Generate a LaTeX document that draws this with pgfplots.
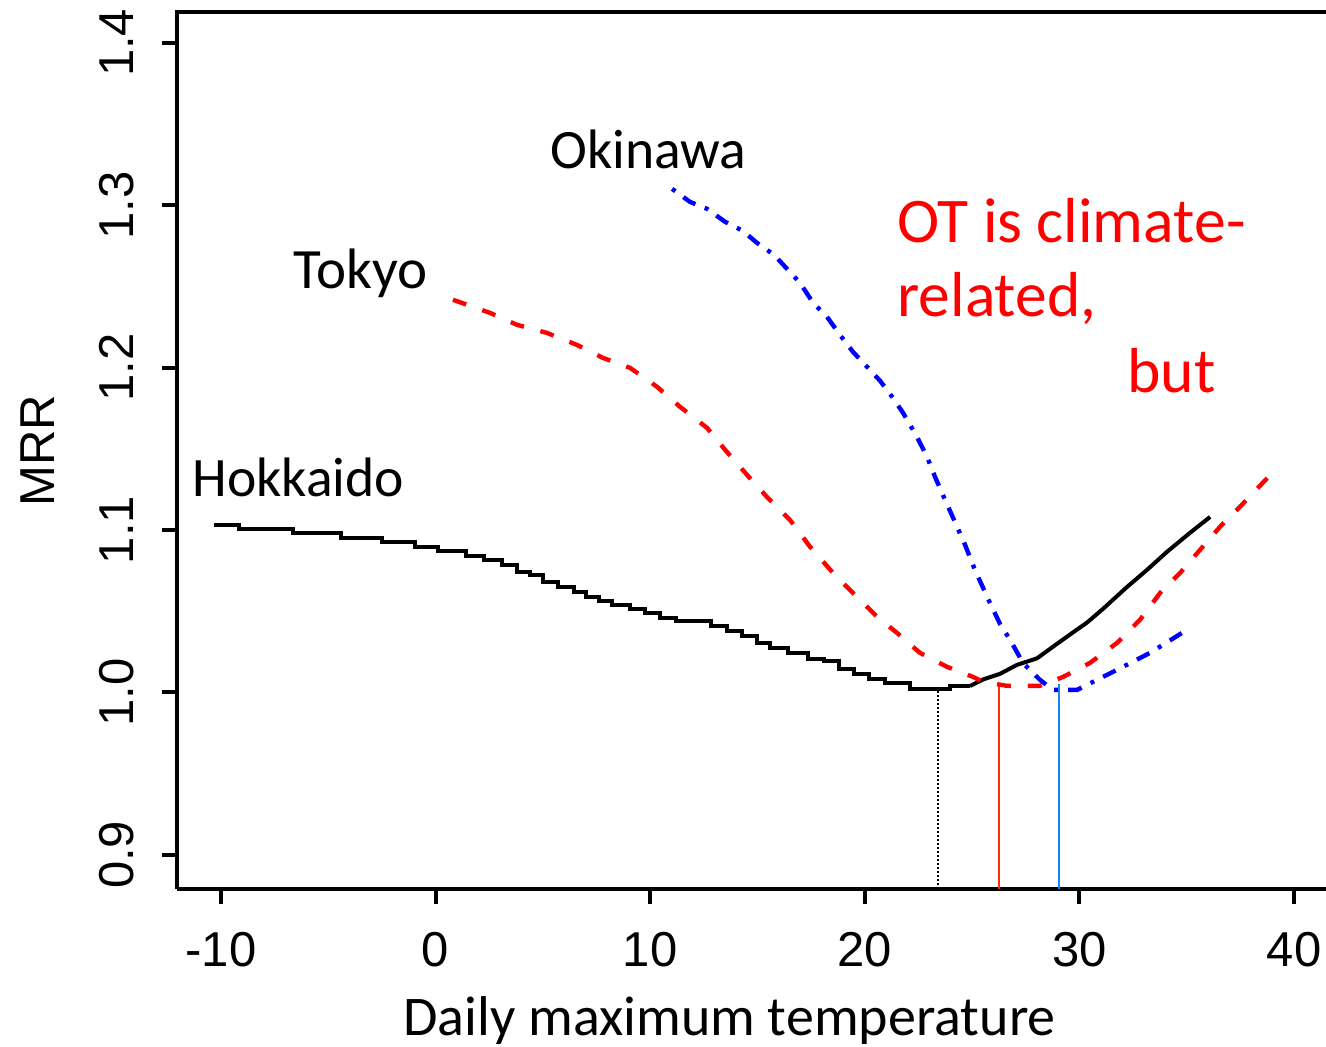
\documentclass[border=0pt]{standalone}
\usepackage{fontspec}
\setmainfont{Carlito}
\newfontfamily\arial{Liberation Sans}
\usepackage{pgfplots}
\pgfplotsset{compat=1.18}
\definecolor{otred}{RGB}{255,45,10}
\definecolor{otblue}{RGB}{20,135,255}

% Minimum-risk ratio curves (MRR) by region
\pgfplotstableread{
x      y
-10.33 1.1032
-9.16  1.1008
-6.64  1.0983
-4.41  1.0949
-2.50  1.0924
-0.96  1.0894
0.11   1.0870
1.42   1.0843
2.26   1.0813
3.09   1.0783
3.79   1.0742
4.40   1.0722
5.00   1.0681
5.70   1.0651
6.45   1.0621
7.01   1.0590
7.61   1.0566
8.22   1.0540
9.06   1.0513
9.76   1.0489
10.46  1.0458
11.20  1.0438
12.83  1.0408
13.58  1.0378
14.28  1.0347
14.98  1.0307
15.58  1.0277
16.42  1.0246
17.35  1.0205
18.10  1.0191
18.80  1.0145
19.50  1.0114
20.20  1.0084
20.94  1.0057
22.11  1.0022
23.97  1.0040
24.90  1.0040
}\hokkaidolow
\pgfplotstableread{
x      y
24.90  1.0040
25.51  1.0080
26.30  1.0115
27.09  1.0170
28.02  1.0210
28.96  1.0300
29.70  1.0370
30.35  1.0430
31.10  1.0515
32.22  1.0650
33.15  1.0755
34.08  1.0866
35.15  1.0983
36.09  1.1081
}\hokkaidohigh
\pgfplotstableread{
x      y
0.81   1.2418
2.54   1.2337
3.79   1.2264
5.19   1.2214
6.59   1.2140
7.80   1.2060
9.06   1.1999
10.32  1.1882
11.39  1.1759
12.65  1.1629
13.49  1.1494
14.51  1.1340
15.44  1.1204
16.51  1.1063
17.45  1.0897
18.52  1.0736
19.45  1.0613
20.57  1.0466
21.50  1.0367
22.57  1.0244
23.83  1.0158
25.04  1.0096
25.51  1.0065
26.63  1.0041
28.16  1.0041
29.24  1.0096
30.49  1.0182
31.75  1.0305
32.82  1.0447
33.76  1.0613
34.69  1.0736
35.62  1.0878
36.55  1.1020
37.48  1.1143
38.98  1.1352
}\tokyo
\pgfplotstableread{
x      y
11.02  1.3101
11.85  1.3021
12.65  1.2978
13.49  1.2898
14.32  1.2842
14.98  1.2768
15.77  1.2695
16.42  1.2602
16.98  1.2522
17.59  1.2399
18.24  1.2313
18.84  1.2202
19.45  1.2097
20.15  1.1999
20.71  1.1919
21.31  1.1814
21.78  1.1722
22.43  1.1574
22.90  1.1451
23.27  1.1328
23.74  1.1186
24.20  1.1050
24.67  1.0909
25.13  1.0755
25.83  1.0552
26.30  1.0422
26.77  1.0324
27.37  1.0182
28.16  1.0078
28.77  1.0016
29.89  1.0016
30.63  1.0065
31.75  1.0139
33.29  1.0244
34.78  1.0367
}\okinawa

\begin{document}
\begin{tikzpicture}
\path[use as bounding box] (-88.5bp,-79bp) rectangle (574.5bp,444.5bp);
\begin{axis}[
  name=ax,
  at={(0,0)}, anchor=south west,
  scale only axis, width=574.5bp, height=438.5bp,
  xmin=-12.05, xmax=41.49, ymin=0.879, ymax=1.419,
  clip=false,
  axis x line*=bottom, axis y line*=left,
  axis line style={line width=2bp, -},
  xtick={-10,0,10,20,30,40},
  ytick={0.9,1.0,1.1,1.2,1.3,1.4},
  minor tick num=0,
  tick align=outside,
  major tick length=7.5bp,
  every tick/.style={line width=2bp, black},
  /pgf/number format/assume math mode=true,
  tick label style={font=\arial\fontsize{24.5bp}{28bp}\selectfont, inner sep=0pt},
  xticklabel style={anchor=base},
  xticklabel shift=31bp,
  yticklabel style={rotate=90, anchor=base, /pgf/number format/.cd, fixed, fixed zerofill, precision=1},
  yticklabel shift=14bp,
  xlabel={Daily maximum temperature},
  xlabel style={at={([yshift=-73bp]axis description cs:0.4809,0)}, anchor=base, inner sep=0pt,
    font=\fontsize{28bp}{32bp}\selectfont},
  ylabel={MRR},
  ylabel style={at={([xshift=-61bp]axis description cs:0,0.5)}, rotate=0, anchor=base, inner sep=0pt,
    font=\arial\fontsize{24.5bp}{28bp}\selectfont},
]
% optimum-temperature markers
\addplot[black, line width=0.7bp, dash pattern=on 1bp off 1bp] coordinates {(23.41,0.879) (23.41,1.004)};
\addplot[otred, line width=1bp] coordinates {(26.25,0.879) (26.25,1.0055)};
\addplot[otblue, line width=1bp] coordinates {(29.05,0.879) (29.05,1.0055)};

% Hokkaido (solid, stepped), Tokyo (dashed), Okinawa (dot-dash)
\addplot[black, line width=2bp, const plot, line join=miter] table {\hokkaidolow};
\addplot[black, line width=2bp] table {\hokkaidohigh};
\addplot[red, line width=2.2bp, dash pattern=on 7bp off 8.5bp] table {\tokyo};
\addplot[blue, line width=2.2bp, dash pattern=on 2bp off 5bp on 7bp off 5bp] table {\okinawa};

\node[anchor=base west, inner sep=0pt, font=\fontsize{27.8bp}{32bp}\selectfont] at (axis cs:5.33,1.3224) {Okinawa};
\node[anchor=base west, inner sep=0pt, font=\fontsize{28.5bp}{32bp}\selectfont] at (axis cs:-6.645,1.2485) {Tokyo};
\node[anchor=base west, inner sep=0pt, font=\fontsize{27.8bp}{32bp}\selectfont] at (axis cs:-11.35,1.1204) {Hokkaido};
\node[anchor=base west, inner sep=0pt, text=red, font=\fontsize{31.8bp}{36bp}\selectfont] at (axis cs:21.50,1.2768) {OT is climate-};
\node[anchor=base west, inner sep=0pt, text=red, font=\fontsize{31.8bp}{36bp}\selectfont] at (axis cs:21.50,1.2313) {related,};
\node[anchor=base west, inner sep=0pt, text=red, font=\fontsize{31.8bp}{36bp}\selectfont] at (axis cs:32.22,1.1845) {but};
\end{axis}
\draw[line width=2bp] ([xshift=-1bp]ax.north west) -- (ax.north east);
\end{tikzpicture}
\end{document}
